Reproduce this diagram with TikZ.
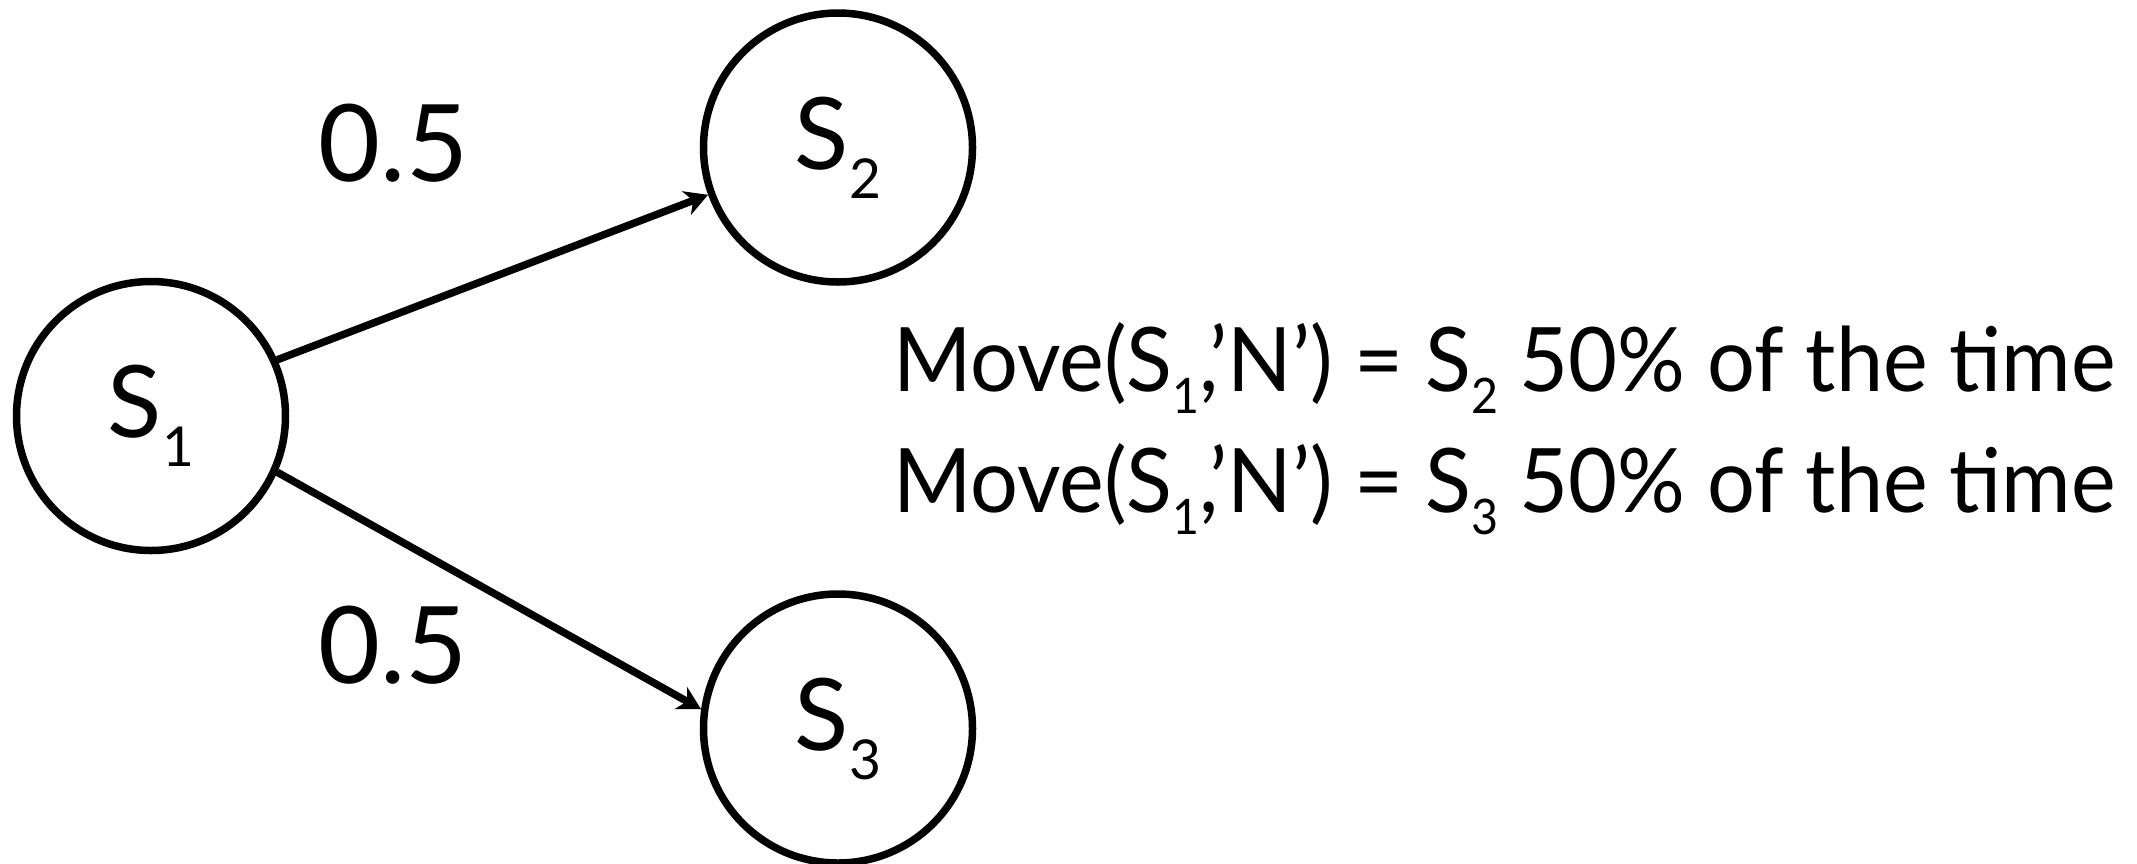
\documentclass[tikz,border=0pt]{standalone}
\usepackage{fontspec}
\setmainfont{Lato}
\usepackage{graphicx}
\usetikzlibrary{arrows.meta}
\newcommand\lsub[2][0.29em]{\raisebox{-#1}{\scalebox{0.55}{#2}}}
\begin{document}
\begin{tikzpicture}[x=1pt,y=-1pt,
  state/.style={circle,draw,line width=7.5pt,minimum size=269pt,inner sep=0pt,font=\fontsize{100}{100}\selectfont},
  prob/.style={font=\fontsize{107}{107}\selectfont,inner sep=0pt},
  edge/.style={line width=7.5pt,-{Stealth[length=23pt,width=25pt,inset=7pt]}},
  desc/.style={font=\fontsize{89}{121}\selectfont,anchor=base west,inner sep=0pt}]
\useasboundingbox (0,0) rectangle (2137,863);
\node[state] (s1) at (151,416) {S\lsub{1}};
\node[state] (s2) at (838,147.5) {S\lsub{2}};
\node[state] (s3) at (838,728.5) {S\lsub{3}};
\node[prob] (p1) at (393.5,143.5) {0.5};
\node[prob] (p2) at (393,645) {0.5};
\node[desc] (l1) at (893,391) {\scalebox{0.95}[1]{Move(S\lsub[0.25em]{1},’N’) = S\lsub[0.25em]{2} 50\% of the time}};
\node[desc] (l2) at (893,512) {\scalebox{0.95}[1]{Move(S\lsub[0.25em]{1},’N’) = S\lsub[0.25em]{3} 50\% of the time}};
\draw[edge] (s1.24) -- (s2.200);
\draw[edge] (s1.-24) -- (s3.172);
\end{tikzpicture}
\end{document}
